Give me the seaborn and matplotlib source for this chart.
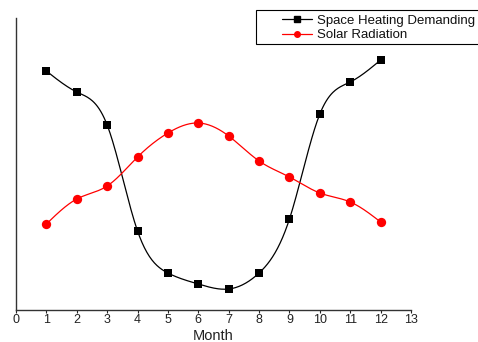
import numpy as np
import pandas as pd
import matplotlib
matplotlib.use("Agg")
import matplotlib.pyplot as plt
import seaborn as sns
from matplotlib.lines import Line2D
from matplotlib.patches import Rectangle

months = [1, 2, 3, 4, 5, 6, 7, 8, 9, 10, 11, 12]
heating = [239, 218, 185, 79, 37, 26, 21, 37, 91, 196, 228, 250]
solar = [86, 111, 124, 153, 177, 187, 174, 149, 133, 117, 108, 88]
xticks = list(range(0, 14))


def natural_spline(x, y, n=400):
    x = np.asarray(x, float)
    y = np.asarray(y, float)
    m = len(x)
    h = np.diff(x)
    A = np.zeros((m, m))
    b = np.zeros(m)
    A[0, 0] = 1
    A[-1, -1] = 1
    for i in range(1, m - 1):
        A[i, i - 1] = h[i - 1]
        A[i, i] = 2 * (h[i - 1] + h[i])
        A[i, i + 1] = h[i]
        b[i] = 3 * ((y[i + 1] - y[i]) / h[i] - (y[i] - y[i - 1]) / h[i - 1])
    c = np.linalg.solve(A, b)
    xs = np.linspace(x[0], x[-1], n)
    idx = np.clip(np.searchsorted(x, xs) - 1, 0, m - 2)
    dx = xs - x[idx]
    bb = (y[idx + 1] - y[idx]) / h[idx] - h[idx] * (2 * c[idx] + c[idx + 1]) / 3
    d = (c[idx + 1] - c[idx]) / (3 * h[idx])
    ys = y[idx] + bb * dx + c[idx] * dx ** 2 + d * dx ** 3
    return xs, ys


sns.set_theme(style="white")
plt.rcParams["font.family"] = ["Liberation Sans", "DejaVu Sans"]

fig = plt.figure(figsize=(4.78, 3.42), dpi=100)
ax = fig.add_axes([16 / 478, 32 / 342, (411 - 16) / 478, (310 - 18) / 342])

df = pd.DataFrame({"Month": months, "heat": heating, "solar": solar})

hx, hy = natural_spline(months, heating)
sx, sy = natural_spline(months, solar)
ax.plot(hx, hy, color="black", lw=0.9, zorder=2)
ax.plot(sx, sy, color="red", lw=0.9, zorder=2)
sns.scatterplot(data=df, x="Month", y="heat", marker="s", color="black", s=40,
                edgecolor="black", linewidth=0, ax=ax, zorder=3)
sns.scatterplot(data=df, x="Month", y="solar", marker="o", color="red", s=45,
                edgecolor="red", linewidth=0, ax=ax, zorder=3)

ax.set_xlim(0, 13)
ax.set_ylim(0, 292)
ax.set_xticks(xticks)
ax.set_xticklabels([str(t) for t in xticks], fontsize=9, color="#222222")
ax.set_yticks([])
ax.set_ylabel("")
ax.set_xlabel("Month", fontsize=10.5, color="#222222", labelpad=2)
ax.tick_params(axis="x", length=2, width=0.8, pad=1, direction="out", bottom=True, color="#222222")
for s in ["top", "right"]:
    ax.spines[s].set_visible(False)
for s in ["left", "bottom"]:
    ax.spines[s].set_color("#333333")
    ax.spines[s].set_linewidth(1.0)

# legend frame
frame = Rectangle((256 / 478, 1 - 44 / 342), (500 - 256) / 478, 34 / 342,
                  transform=fig.transFigure, facecolor="white", edgecolor="black",
                  linewidth=0.8, clip_on=False, zorder=5)
fig.patches.append(frame)

handles = [
    Line2D([], [], color="black", marker="s", markersize=4, lw=0.9),
    Line2D([], [], color="red", marker="o", markersize=4, lw=0.9),
]
leg = fig.legend(handles, ["Space Heating Demanding", "Solar Radiation"],
                 loc="center left", bbox_to_anchor=(282 / 478, 1 - 28 / 342),
                 fontsize=9.5, frameon=False, borderpad=0, labelspacing=0.17,
                 handlelength=2.27, handletextpad=0.36, borderaxespad=0)
leg.set_zorder(6)
for t in leg.get_texts():
    t.set_color("#111111")

fig.savefig("out.png", dpi=100)
